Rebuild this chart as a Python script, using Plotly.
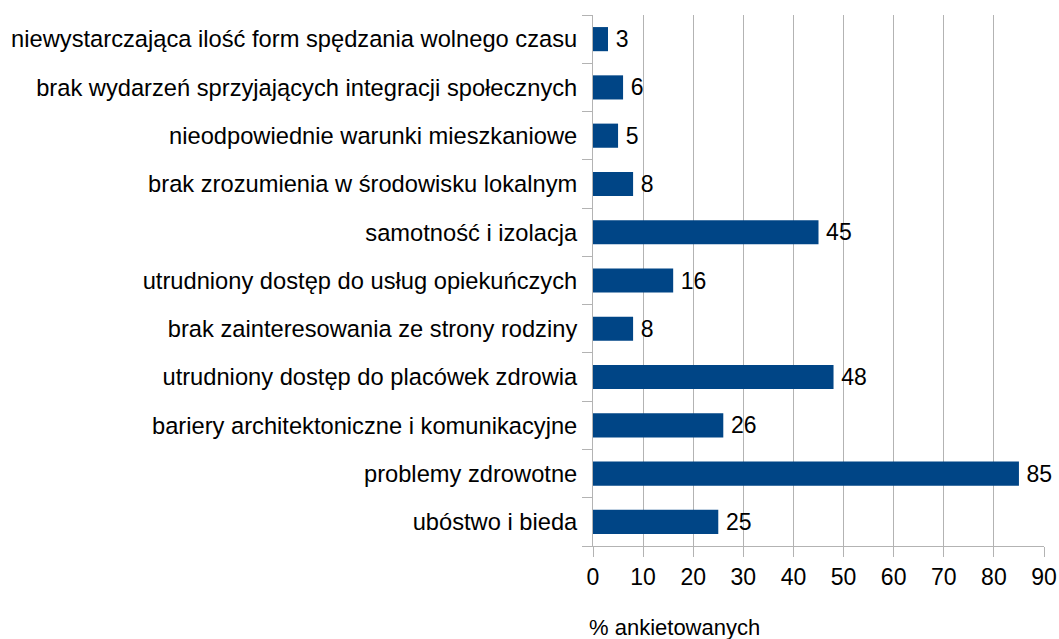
import plotly.graph_objects as go

categories = [
    "ubóstwo i bieda",
    "problemy zdrowotne",
    "bariery architektoniczne i komunikacyjne",
    "utrudniony dostęp do placówek zdrowia",
    "brak zainteresowania ze strony rodziny",
    "utrudniony dostęp do usług opiekuńczych",
    "samotność i izolacja",
    "brak zrozumienia w środowisku lokalnym",
    "nieodpowiednie warunki mieszkaniowe",
    "brak wydarzeń sprzyjających integracji społecznych",
    "niewystarczająca ilość form spędzania wolnego czasu",
]
values = [25, 85, 26, 48, 8, 16, 45, 8, 5, 6, 3]
x_ticks = [0, 10, 20, 30, 40, 50, 60, 70, 80, 90]

font = "Liberation Sans, Arial, sans-serif"
grid = "#b3b3b3"

fig = go.Figure(go.Bar(
    x=values,
    y=categories,
    orientation="h",
    marker=dict(color="#004586", line=dict(width=0)),
    width=0.5,
    text=values,
    texttemplate="\u2009%{x}",
    textposition="outside",
    constraintext="none",
    textfont=dict(family=font, size=23, color="black"),
    cliponaxis=False,
))

fig.update_layout(
    width=1059,
    height=639,
    margin=dict(l=593, r=15, t=15, b=93),
    plot_bgcolor="white",
    paper_bgcolor="white",
    showlegend=False,
    font=dict(family=font, color="black"),
    xaxis=dict(
        range=[0, 90],
        tickvals=x_ticks,
        showgrid=True,
        gridcolor=grid,
        gridwidth=1,
        zeroline=False,
        showline=True,
        linecolor=grid,
        ticks="outside",
        ticklen=10,
        tickcolor=grid,
        tickfont=dict(size=23),
        automargin=False,
    ),
    yaxis=dict(
        type="category",
        tickson="boundaries",
        showgrid=False,
        showline=True,
        linecolor=grid,
        ticks="outside",
        ticklen=10,
        tickcolor=grid,
        ticklabelstandoff=10,
        tickfont=dict(size=23.7),
        automargin=False,
    ),
    annotations=[dict(
        text="% ankietowanych",
        xref="paper", yref="paper",
        x=0.18, y=-0.154,
        xanchor="center", yanchor="middle",
        showarrow=False,
        font=dict(size=22),
    )],
)

# drop the default page margin so the figure fills the window exactly
fig.write_html(
    "out.html",
    config={"displayModeBar": False},
    post_script="document.body.style.margin = '0';",
)
